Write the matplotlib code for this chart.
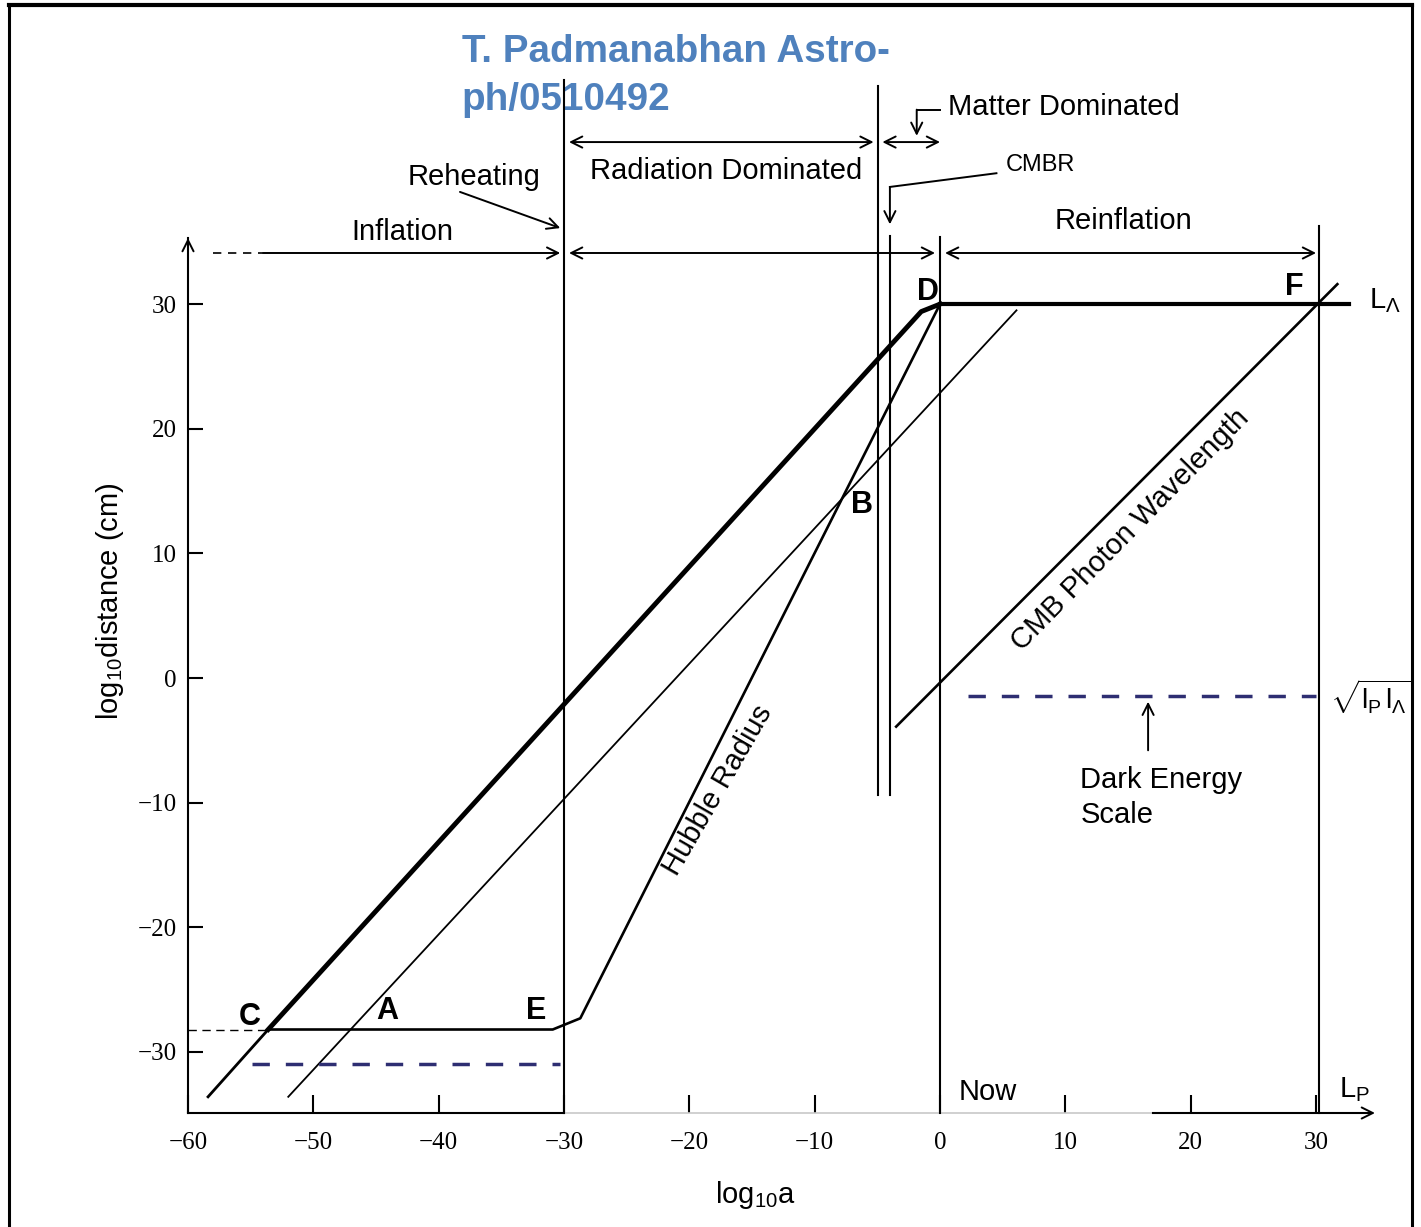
import matplotlib.pyplot as plt

plt.rcParams['font.family'] = ['Liberation Sans', 'DejaVu Sans']
plt.rcParams['mathtext.fontset'] = 'custom'
plt.rcParams['mathtext.rm'] = 'Liberation Sans'
plt.rcParams['mathtext.it'] = 'Liberation Sans:italic'
plt.rcParams['mathtext.bf'] = 'Liberation Sans:bold'

# values: x = log10 a, y = log10 distance (cm)
xticks = [-60, -50, -40, -30, -20, -10, 0, 10, 20, 30]
yticks = [-30, -20, -10, 0, 10, 20, 30]

# thick wavelength line C -> D and its thinner tail below C
thick_x = [-53.6, -1.5, 0.0]
thick_y = [-28.2, 29.4, 30.0]
tail_x = [-58.4, -53.6]
tail_y = [-33.6, -28.2]

# L_Lambda ceiling D -> F
ceil_x = [0.0, 32.6]
ceil_y = [30.0, 30.0]

# Hubble radius: C -> E, bend, then up through B to D
hubble_x = [-53.6, -30.9, -28.7, 0.0]
hubble_y = [-28.2, -28.2, -27.3, 30.0]
hubble_ext_x = [-60.0, -53.6]
hubble_ext_y = [-28.2, -28.2]

# thin wavelength line through A
thin_x = [-52.0, 6.1]
thin_y = [-33.6, 29.5]

# CMB photon wavelength
cmb_x = [-3.5, 31.7]
cmb_y = [-3.9, 31.6]

# dark energy scale and lower blue dashed level
de_x = [2.2, 30.0]
de_y = [-1.45, -1.45]
low_x = [-54.9, -30.3]
low_y = [-31.0, -31.0]

# epoch boundaries
epoch_x = [-30.0, -4.95, -4.0, 0.0, 30.2]
epoch_top = [48.0, 47.5, 35.5, 35.4, 36.3]
epoch_bot = [-34.9, -9.4, -9.4, -34.9, -34.9]

XLIM = (-60, 34.7)
YLIM = (-34.9, 35.3)

fig = plt.figure(figsize=(14.21, 12.27), dpi=100)
ax = fig.add_axes([0.1323, 0.0929, 0.8353, 0.7131])
ax.set_xlim(*XLIM)
ax.set_ylim(*YLIM)

for s in ['top', 'right', 'bottom']:
    ax.spines[s].set_visible(False)
ax.spines['left'].set_linewidth(1.5)

ax.set_xticks(xticks)
ax.set_yticks(yticks)
ax.tick_params(axis='y', direction='in', length=11, width=1.5, pad=8, labelsize=18)
ax.tick_params(axis='x', direction='in', length=13, width=1.5, pad=14, labelsize=18)
for lbl in ax.get_xticklabels() + ax.get_yticklabels():
    lbl.set_fontfamily('Liberation Serif')

# bottom axis (faint in the scanned middle part)
ax.plot([XLIM[0], -30], [YLIM[0]] * 2, color='black', lw=1.5, clip_on=False)
ax.plot([-30, 17], [YLIM[0]] * 2, color='#c8c8c8', lw=1.2, clip_on=False)
ax.plot([17, XLIM[1] - 0.5], [YLIM[0]] * 2, color='black', lw=1.5, clip_on=False)


def arrow(x0, y0, x1, y1, style='->', lw=1.4):
    ax.annotate('', xy=(x1, y1), xytext=(x0, y0), annotation_clip=False,
                arrowprops=dict(arrowstyle=style, lw=lw, color='black',
                                shrinkA=0, shrinkB=0, mutation_scale=20))


# axis arrow heads
arrow(XLIM[1] - 2, YLIM[0], XLIM[1], YLIM[0])
arrow(XLIM[0], YLIM[1] - 2, XLIM[0], YLIM[1])

# curves
ax.plot(tail_x, tail_y, color='black', lw=2.0, clip_on=False)
ax.plot(thick_x, thick_y, color='black', lw=3.5, solid_joinstyle='round')
ax.plot(ceil_x, ceil_y, color='black', lw=3.0, clip_on=False)
ax.plot(hubble_x, hubble_y, color='black', lw=1.9)
ax.plot(hubble_ext_x, hubble_ext_y, color='black', lw=1.0, ls=(0, (6, 4)))
ax.plot(thin_x, thin_y, color='black', lw=1.3)
ax.plot(cmb_x, cmb_y, color='black', lw=1.9, clip_on=False)
ax.plot(de_x, de_y, color='#2e2e72', lw=2.5, ls=(0, (5, 4.6)))
ax.plot(low_x, low_y, color='#2e2e72', lw=2.5, ls=(0, (5, 4.6)))

for x, top, bot in zip(epoch_x, epoch_top, epoch_bot):
    ax.plot([x, x], [bot, top], color='black', lw=1.5, clip_on=False)

# era arrows
ax.plot([-58.0, -54.0], [34.1, 34.1], color='black', lw=1.2, ls=(0, (5, 4)), clip_on=False)
arrow(-54.0, 34.1, -30.3, 34.1)
arrow(-29.6, 34.1, -0.4, 34.1, '<->')
arrow(0.4, 34.1, 30.0, 34.1, '<->')
arrow(-29.6, 43.0, -5.3, 43.0, '<->')
arrow(-4.6, 43.0, 0.0, 43.0, '<->')

# pointers
ax.plot([0.0, -1.86], [45.6, 45.6], color='black', lw=1.4, clip_on=False)
arrow(-1.86, 45.6, -1.86, 43.5)
ax.plot([4.5, -4.0], [40.5, 39.4], color='black', lw=1.4, clip_on=False)
arrow(-4.0, 39.4, -4.0, 36.4)
arrow(-38.3, 39.0, -30.3, 36.1)
arrow(16.6, -5.8, 16.6, -1.9)

fs = 21
txt = dict(fontsize=fs, ha='center', va='center', clip_on=False)
ax.text(-42.9, 35.8, 'Inflation', **txt)
ax.text(-37.2, 40.2, 'Reheating', **txt)
ax.text(-17.1, 40.7, 'Radiation Dominated', **txt)
ax.text(0.6, 45.8, 'Matter Dominated', fontsize=fs, ha='left', va='center')
ax.text(8.0, 41.2, 'CMBR', fontsize=17, ha='center', va='center')
ax.text(14.6, 36.7, 'Reinflation', **txt)
ax.text(11.2, -9.6, 'Dark Energy\nScale', fontsize=fs, ha='left', va='center',
        linespacing=1.3)
ax.text(3.8, -33.2, 'Now', **txt)
ax.text(31.8, -33.0, r'L$_\mathrm{P}$', fontsize=fs, ha='left', va='center')
ax.text(34.2, 30.3, r'L$_\Lambda$', fontsize=fs, ha='left', va='center', clip_on=False)
ax.text(31.1, -1.5, r'$\sqrt{\mathrm{l_P\,l_\Lambda}}$', fontsize=20, ha='left',
        va='center', clip_on=False)
ax.text(-17.7, -9.0, 'Hubble Radius', rotation=60, rotation_mode='anchor', **txt)
ax.text(15.2, 11.9, 'CMB Photon Wavelength', rotation=45.5, rotation_mode='anchor', **txt)

bold = dict(fontsize=22, fontweight='bold', ha='center', va='center')
ax.text(-1.0, 30.95, 'D', **bold)
ax.text(28.3, 31.4, 'F', **bold)
ax.text(-6.2, 13.9, 'B', **bold)
ax.text(-55.1, -27.2, 'C', **bold)
ax.text(-44.1, -26.7, 'A', **bold)
ax.text(-32.2, -26.7, 'E', **bold)

ax.set_xlabel(r'log$_{\mathrm{10}}$a', fontsize=fs)
ax.xaxis.set_label_coords(0.478, -0.075)
ax.set_ylabel(r'log$_{\mathrm{10}}$distance (cm)', fontsize=fs)
ax.yaxis.set_label_coords(-0.052, 0.585)

# title in blue (drawn under the epoch line, as in the source)
ax.text(0.325, 0.9495, 'T. Padmanabhan Astro-', transform=fig.transFigure,
        fontsize=27.8, fontweight='bold', color='#4f81bd', va='baseline', zorder=1)
ax.text(0.325, 0.9104, 'ph/0510492', transform=fig.transFigure,
        fontsize=27.8, fontweight='bold', color='#4f81bd', va='baseline', zorder=1)

# frame, open at the bottom as in the cropped source
fig.add_artist(plt.Line2D([9 / 1421, 9 / 1421], [0, 1 - 5 / 1227], color='black', lw=2.2, zorder=6))
fig.add_artist(plt.Line2D([1412 / 1421, 1412 / 1421], [0, 1 - 5 / 1227], color='black', lw=2.2, zorder=6))
fig.add_artist(plt.Line2D([9 / 1421, 1412 / 1421], [1 - 5 / 1227] * 2, color='black', lw=3.0, zorder=6))

fig.savefig('out.png', dpi=100)
